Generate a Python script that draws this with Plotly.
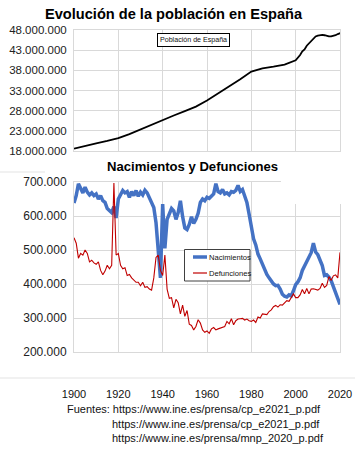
import plotly.graph_objects as go

W, H = 360, 449

# ---- Data ----
pop_years = [1900, 1905, 1910, 1915, 1920, 1925, 1930, 1935, 1940, 1945, 1950, 1955,
             1960, 1965, 1970, 1975, 1980, 1985, 1990, 1995, 2000, 2001, 2002, 2003,
             2004, 2005, 2006, 2007, 2008, 2009, 2010, 2011, 2012, 2013, 2014, 2015,
             2016, 2017, 2018, 2019, 2020, 2021]
population = [18.6, 19.3, 19.9, 20.5, 21.2, 22.2, 23.4, 24.6, 25.7, 26.8, 27.9, 29.0,
              30.5, 32.2, 33.9, 35.8, 37.7, 38.5, 38.9, 39.4, 40.5, 41.1, 41.8, 42.7,
              43.2, 44.1, 44.7, 45.2, 46.0, 46.4, 46.6, 46.7, 46.8, 46.7, 46.5, 46.4,
              46.4, 46.5, 46.7, 47.0, 47.3, 47.4]  # millions

years = list(range(1900, 2021))
births = [638, 660, 695, 680, 668, 685, 670, 662, 668, 660,
          665, 650, 660, 645, 640, 622, 615, 610, 628, 594,
          650, 665, 675, 668, 672, 655, 672, 660, 675, 658,
          670, 662, 676, 668, 655, 640, 625, 580, 490, 418,
          635, 505, 590, 610, 622, 615, 590, 610, 645, 598,
          565, 560, 575, 598, 578, 590, 608, 640, 650, 645,
          655, 652, 658, 665, 695, 672, 668, 678, 665, 668,
          662, 672, 670, 675, 690, 672, 678, 660, 640, 605,
          572, 533, 515, 488, 474, 457, 440, 428, 418, 408,
          400, 395, 396, 385, 370, 364, 362, 368, 365, 380,
          398, 406, 418, 440, 454, 466, 482, 492, 520, 494,
          486, 471, 454, 425, 427, 420, 410, 392, 372, 360,
          340]  # thousands
deaths = [536, 520, 476, 490, 485, 500, 490, 465, 470, 462,
          458, 465, 440, 427, 438, 455, 445, 455, 697, 485,
          490, 455, 445, 448, 425, 428, 418, 412, 405, 405,
          395, 405, 390, 392, 385, 382, 418, 478, 485, 440,
          425, 485, 385, 358, 360, 330, 355, 345, 312, 338,
          305, 322, 282, 278, 265, 275, 295, 285, 265, 258,
          262, 255, 268, 272, 265, 268, 270, 272, 275, 290,
          283, 298, 280, 292, 297, 298, 299, 294, 297, 292,
          290, 294, 287, 303, 300, 312, 311, 310, 319, 324,
          333, 337, 332, 339, 338, 346, 351, 349, 360, 371,
          360, 360, 368, 384, 371, 387, 371, 385, 386, 384,
          382, 387, 402, 390, 396, 422, 410, 424, 427, 418,
          493]  # thousands

x_ticks = [1900, 1920, 1940, 1960, 1980, 2000, 2020]
pop_ticks = [18_000_000, 23_000_000, 28_000_000, 33_000_000, 38_000_000, 43_000_000, 48_000_000]
nd_ticks = [200_000, 300_000, 400_000, 500_000, 600_000, 700_000]

title_top = "Evolución de la población en España"
title_bottom = "Nacimientos y Defunciones"
sources = ["Fuentes: https://www.ine.es/prensa/cp_e2021_p.pdf",
           "https://www.ine.es/prensa/cp_e2021_p.pdf",
           "https://www.ine.es/prensa/mnp_2020_p.pdf"]

BLUE = "#4472C4"
RED = "#C00000"
GRID = "#d9d9d9"
SANS = "Liberation Sans, Arial, sans-serif"
NARROW = "Liberation Sans Narrow, Arial Narrow, Liberation Sans, sans-serif"


def px(x):
    return x / W


def py(y):
    return 1 - y / H


fig = go.Figure()

fig.add_trace(go.Scatter(x=pop_years, y=[v * 1_000_000 for v in population],
                         mode="lines", line=dict(color="black", width=1.8),
                         name="Población de España", xaxis="x", yaxis="y",
                         showlegend=False))
fig.add_trace(go.Scatter(x=years, y=[v * 1000 for v in births], mode="lines",
                         line=dict(color=BLUE, width=3.5), name="Nacimientos",
                         xaxis="x2", yaxis="y2", showlegend=False))
fig.add_trace(go.Scatter(x=years, y=[v * 1000 for v in deaths], mode="lines",
                         line=dict(color=RED, width=1.1), name="Defunciones",
                         xaxis="x2", yaxis="y2", showlegend=False))

axis_common = dict(showgrid=True, gridcolor=GRID, gridwidth=1, zeroline=False,
                   showline=True, linecolor=GRID, linewidth=1, mirror=True, ticks="",
                   automargin=False, ticklabeloverflow="allow")

fig.update_layout(
    width=W, height=H,
    margin=dict(l=0, r=0, t=0, b=0, autoexpand=False),
    paper_bgcolor="white", plot_bgcolor="white",
    separators=",.",
    showlegend=False,
    xaxis=dict(domain=[px(74), px(340)], range=[1900, 2020], tickvals=x_ticks,
               showticklabels=False, anchor="y", **axis_common),
    yaxis=dict(domain=[py(151), py(30)], range=[18_000_000, 48_000_000],
               tickvals=pop_ticks, tickformat=",d", anchor="x",
               tickfont=dict(family=SANS, size=11.5, color="#222"),
               ticklabelstandoff=4, **axis_common),
    xaxis2=dict(domain=[px(74), px(340)], range=[1900, 2020], tickvals=x_ticks,
                anchor="y2", tickfont=dict(family=SANS, size=11, color="#111"),
                ticklabelstandoff=32, **axis_common),
    yaxis2=dict(domain=[py(352), py(182)], range=[200_000, 700_000],
                tickvals=nd_ticks, tickformat=",d", anchor="x2",
                tickfont=dict(family=SANS, size=12, color="#222"),
                ticklabelstandoff=4, **axis_common),
)

annotations = [
    dict(text=f"<b>{title_top}</b>", x=px(173.5), y=py(14), xref="paper", yref="paper",
         showarrow=False, xanchor="center", yanchor="middle",
         font=dict(family=SANS, size=14.6, color="black")),
    dict(text=f"<b>{title_bottom}</b>", x=px(192.5), y=py(166), xref="paper", yref="paper",
         showarrow=False, xanchor="center", yanchor="middle",
         font=dict(family=SANS, size=13.1, color="black")),
    dict(text="Población de España", x=px(193.5), y=py(40.5), xref="paper", yref="paper",
         showarrow=False, xanchor="center", yanchor="middle",
         bordercolor="black", borderwidth=1, borderpad=2, bgcolor="white",
         font=dict(family=NARROW, size=7.1, color="#111")),
    dict(text="Nacimientos", x=px(207.5), y=py(257), xref="paper", yref="paper",
         showarrow=False, xanchor="left", yanchor="middle",
         font=dict(family=NARROW, size=7.6, color="#111")),
    dict(text="Defunciones", x=px(207.5), y=py(273), xref="paper", yref="paper",
         showarrow=False, xanchor="left", yanchor="middle",
         font=dict(family=NARROW, size=7.6, color="#111")),
    dict(text=sources[0], x=px(65), y=py(408.5), xref="paper", yref="paper",
         showarrow=False, xanchor="left", yanchor="middle",
         font=dict(family=SANS, size=11, color="#111")),
    dict(text=sources[1], x=px(110), y=py(424), xref="paper", yref="paper",
         showarrow=False, xanchor="left", yanchor="middle",
         font=dict(family=SANS, size=11, color="#111")),
    dict(text=sources[2], x=px(110), y=py(438), xref="paper", yref="paper",
         showarrow=False, xanchor="left", yanchor="middle",
         font=dict(family=SANS, size=11, color="#111")),
]
fig.update_layout(annotations=annotations)

shapes = [
    # white patch in the top-right corner of the lower chart (as in the reference)
    dict(type="rect", xref="paper", yref="paper", x0=px(281), x1=px(346), y0=py(204), y1=py(176),
         fillcolor="white", line=dict(width=0), layer="above"),
    # faint separator lines
    dict(type="line", xref="paper", yref="paper", x0=px(0), x1=px(45), y0=py(172), y1=py(172),
         line=dict(color="#e3e3e3", width=1)),
    dict(type="line", xref="paper", yref="paper", x0=px(0), x1=px(355), y0=py(378), y1=py(378),
         line=dict(color="#e3e3e3", width=1)),
    # lower legend box
    dict(type="rect", xref="paper", yref="paper", x0=px(184.5), x1=px(250), y0=py(281), y1=py(249.5),
         fillcolor="white", line=dict(color="#404040", width=1), layer="above"),
    dict(type="line", xref="paper", yref="paper", x0=px(193), x1=px(207), y0=py(257), y1=py(257),
         line=dict(color=BLUE, width=3.5), layer="above"),
    dict(type="line", xref="paper", yref="paper", x0=px(193), x1=px(207), y0=py(273), y1=py(273),
         line=dict(color=RED, width=1.2), layer="above"),
]
fig.update_layout(shapes=shapes)

# remove the page's default 8px body margin so the figure sits at the window origin
fig.write_html("out.html", config={"displayModeBar": False},
               post_script="document.body.style.margin='0';")
